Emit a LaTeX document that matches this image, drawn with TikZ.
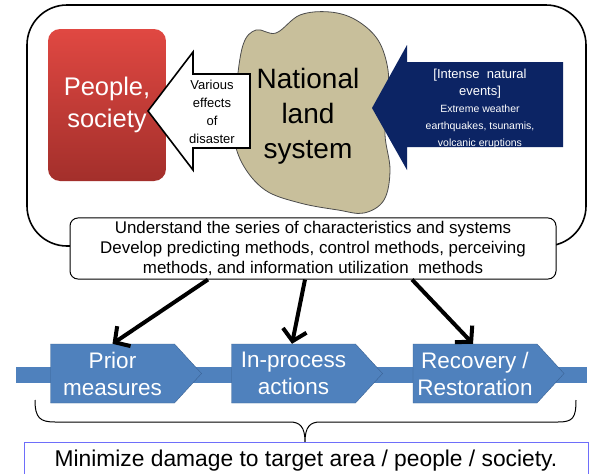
\documentclass[tikz,border=0pt]{standalone}
\usepackage{fontspec}
\setmainfont{Liberation Sans}
\usetikzlibrary{positioning,shapes.symbols,arrows.meta}
\definecolor{peoplered}{RGB}{224,72,66}
\definecolor{peopledark}{RGB}{163,47,43}
\definecolor{landtan}{RGB}{200,191,155}
\definecolor{eventnavy}{RGB}{12,36,100}
\definecolor{stepblue}{RGB}{79,129,189}
\definecolor{stepedge}{RGB}{58,98,148}
\definecolor{goalline}{RGB}{110,110,250}
\newcommand{\evsmall}{\fontsize{10.5}{17}\selectfont}

\begin{document}
\begin{tikzpicture}[x=1pt,y=-1pt,
  chevron/.style={shape=signal, signal to=east, signal pointer angle=95,
    fill=stepblue, draw=stepedge, text=white, minimum width=151pt,
    minimum height=59pt, inner sep=0pt, align=center,
    font=\fontsize{22.5}{27}\selectfont},
  bigarrow/.style={line width=4pt, -{Straight Barb[length=11pt,width=24pt]}}]
\clip (0,0) rectangle (590,474);
\fill[white] (0,0) rectangle (590,474);

% outer frame
\draw[line width=1.6pt, rounded corners=40pt] (27,5) rectangle (586,246);

% people box
\node[shape=rectangle, rounded corners=12pt, top color=peoplered, bottom color=peopledark,
  minimum width=118pt, minimum height=152pt, text=white, align=center,
  font=\fontsize{25.5}{32}\selectfont] (people) at (107,105) {People,\\society};

% national land system
\draw[fill=landtan, draw=black!70, line width=0.8pt] plot[smooth cycle, tension=0.6] coordinates {
  (243,45) (256,30) (276,33) (300,15) (330,12) (356,20) (378,40) (388,70) (387,100)
  (385,135) (390,170) (384,200) (364,213) (338,210) (300,203) (265,190) (242,163)
  (233,130) (236,90)};
\node[align=center, font=\fontsize{28}{35}\selectfont] (land) at (308,116) {National\\land\\system};

% effects arrow
\draw[fill=white, line width=1.6pt] (148,111) -- (193,52) -- (193,74) -- (250,74)
  -- (250,148) -- (193,148) -- (193,170) -- cycle;
\node[align=center, font=\fontsize{13}{18}\selectfont] (effects) at (212,112) {Various\\effects\\of\\disaster};

% events arrow
\fill[eventnavy] (372,108) -- (407,45) -- (407,62) -- (563,62)
  -- (563,147) -- (407,147) -- (407,170) -- cycle;
\node[align=center, text=white, font=\fontsize{13}{17}\selectfont] (events) at (480,109)
  {[Intense\ \ natural\\events]\\\evsmall Extreme weather\\\evsmall earthquakes, tsunamis,\\\evsmall volcanic eruptions};

% research tasks
\node[draw, fill=white, line width=1pt, rounded corners=8pt, minimum width=486pt,
  minimum height=61pt, align=center, font=\fontsize{16.9}{20}\selectfont] (tasks) at (313,248.5)
  {Understand the series of characteristics and systems\\
   Develop predicting methods, control methods, perceiving\\
   methods, and information utilization\ \ methods};

% time line
\fill[stepblue] (16,367) rectangle (587,383);
\node[chevron] (prior) at (112.5,373.5) {Prior\\measures};
\node[chevron] (inprocess) at (293.5,373.5) {In-process\\actions};
\node[chevron] (recovery) at (475,373.5) {Recovery /\\Restoration};

\draw[bigarrow] ([xshift=-105pt]tasks.south) -- (prior.north);
\draw[bigarrow] ([xshift=-8pt]tasks.south) -- ([xshift=-1.5pt]inprocess.north);
\draw[bigarrow] ([xshift=99pt]tasks.south) -- ([xshift=-2pt]recovery.north);

% brace and goal
\draw[line width=1pt] (35,400) .. controls (35,418) and (40,422) .. (55,422) -- (290,422)
  .. controls (300,422) and (305,427) .. (305,442)
  .. controls (305,427) and (310,422) .. (320,422) -- (558,422)
  .. controls (573,422) and (576,418) .. (576,400);
\node[draw=goalline, line width=0.8pt, minimum width=564pt, minimum height=36pt,
  anchor=north, font=\fontsize{22.8}{27}\selectfont] (goal) at (306,442)
  {Minimize damage to target area / people / society.};
\end{tikzpicture}
\end{document}
